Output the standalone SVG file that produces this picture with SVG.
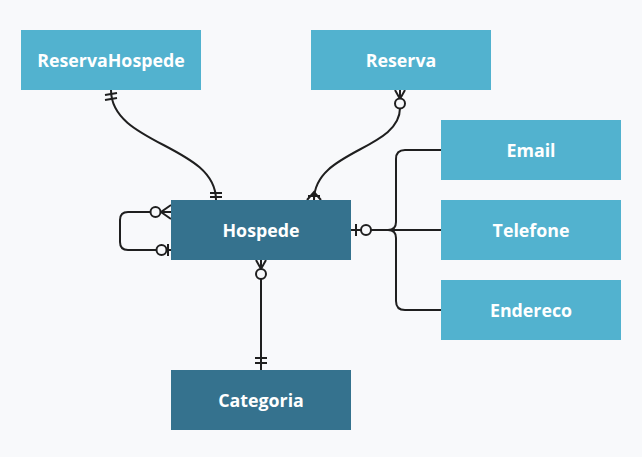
<svg xmlns="http://www.w3.org/2000/svg" width="642" height="457" viewBox="0 0 642 457">
<style>
.bg{fill:#f8f9fb}
.light{fill:#52b2cf}
.dark{fill:#35728e}
.lbl{font-family:"Open Sans",sans-serif;font-weight:bold;font-size:17.8px;fill:#ffffff;text-anchor:middle;dominant-baseline:central}
.ln{fill:none;stroke:#1f1f1f;stroke-width:2}
.circ{fill:#f8f9fb;stroke:#1f1f1f;stroke-width:2}
</style>
<rect class="bg" x="0" y="0" width="642" height="457"/>
<g id="connectors">
  <!-- ReservaHospede - Hospede -->
  <path class="ln" d="M111,90 C111,145 216,145 216,200"/>
  <path class="ln" d="M105,95 L117,93 M105,100 L117,98"/>
  <path class="ln" d="M210,193 L222,193 M210,197 L222,197"/>
  <!-- Reserva - Hospede -->
  <path class="ln" d="M400,108 C400,150 314,150 314,200"/>
  <path class="ln" d="M395,90 L400,99 L405,90 M400,90 L400,99"/>
  <circle class="circ" cx="400" cy="103.5" r="5"/>
  <path class="ln" d="M307,200 L314,192 L321,200 M314,192 L314,200 M308,196 L320,196"/>
  <!-- self loop -->
  <path class="ln" d="M150,212 H128 Q120,212 120,220 V242 Q120,250 128,250 H156"/>
  <path class="ln" d="M171,205 L161,212 L171,219 M161,212 L171,212"/>
  <circle class="circ" cx="155.5" cy="212" r="5"/>
  <path class="ln" d="M166,250 H171 M168,244 V256"/>
  <circle class="circ" cx="161.5" cy="250" r="5"/>
  <!-- Hospede - attributes -->
  <path class="ln" d="M351,230 H361 M356,224 V236"/>
  <circle class="circ" cx="366" cy="230" r="5"/>
  <path class="ln" d="M371,230 H441"/>
  <path class="ln" d="M441,150 H405 Q396,150 396,159 V222 Q396,230 388,230"/>
  <path class="ln" d="M441,310 H405 Q396,310 396,301 V238 Q396,230 388,230"/>
  <!-- Hospede - Categoria -->
  <path class="ln" d="M261,279 V370"/>
  <path class="ln" d="M256,260 L261,269 L266,260 M261,260 L261,269"/>
  <circle class="circ" cx="261" cy="274" r="5"/>
  <path class="ln" d="M255,358 H267 M255,363 H267"/>
</g>
<g id="ReservaHospede"><rect class="light" x="21" y="30" width="180" height="60"/><text class="lbl" x="111" y="60">ReservaHospede</text></g>
<g id="Reserva"><rect class="light" x="311" y="30" width="180" height="60"/><text class="lbl" x="401" y="60">Reserva</text></g>
<g id="Email"><rect class="light" x="441" y="120" width="180" height="60"/><text class="lbl" x="531" y="150">Email</text></g>
<g id="Telefone"><rect class="light" x="441" y="200" width="180" height="60"/><text class="lbl" x="531" y="230">Telefone</text></g>
<g id="Endereco"><rect class="light" x="441" y="280" width="180" height="60"/><text class="lbl" x="531" y="310">Endereco</text></g>
<g id="Hospede"><rect class="dark" x="171" y="200" width="180" height="60"/><text class="lbl" x="261" y="230">Hospede</text></g>
<g id="Categoria"><rect class="dark" x="171" y="370" width="180" height="60"/><text class="lbl" x="261" y="400">Categoria</text></g>
</svg>
